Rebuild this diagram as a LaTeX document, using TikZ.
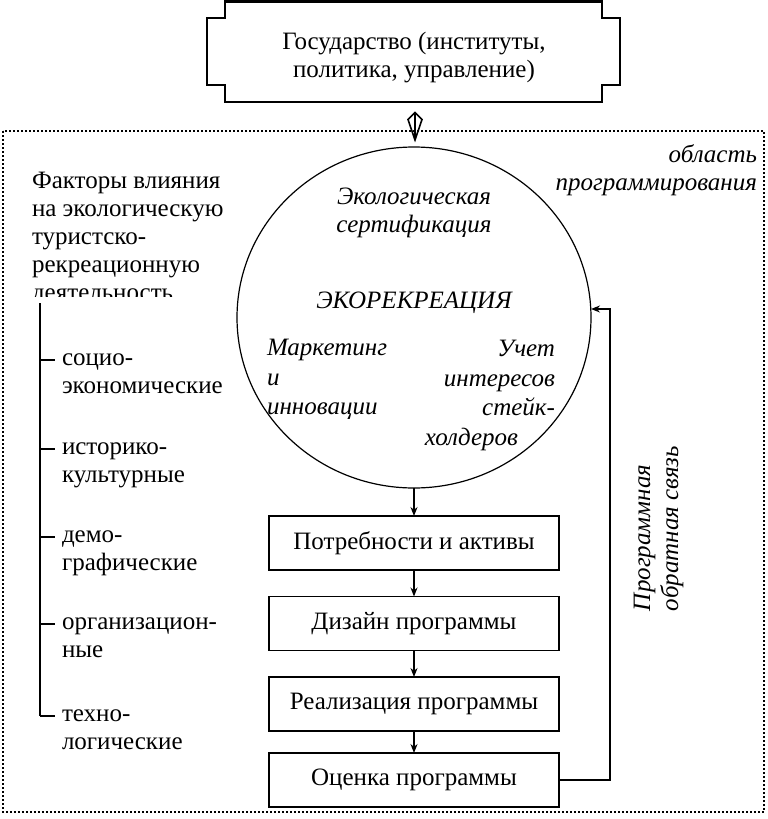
\documentclass[tikz,border=0pt]{standalone}
\usepackage{fontspec}
\setmainfont{Liberation Serif}
\usetikzlibrary{arrows.meta,shapes.geometric,calc}
\begin{document}
\begin{tikzpicture}[x=1pt,y=-1pt,
  every node/.style={inner sep=0pt, outer sep=0pt},
  txt/.style={font=\fontsize{25}{28}\selectfont},
  itx/.style={font=\fontsize{25}{28}\selectfont\itshape},
  itw/.style={font=\fontsize{25}{29.5}\selectfont\itshape},
  pbox/.style={txt, draw, line width=1.8pt, minimum width=290pt, minimum height=54pt},
  arr/.style={-{Stealth[length=9pt,width=7pt]}, line width=1.3pt},
  kite/.style={line width=1.6pt, line join=miter},
  tick/.style={line width=1.8pt}]
\useasboundingbox (0,0) rectangle (768,819);
% state box (scroll outline)
\node[minimum width=377pt, minimum height=101pt] (gov) at (413.5,52) {};
\draw[line width=2.4pt, line join=miter]
  (225,1.5) -- (602,1.5) -- (602,18) -- (620,18) -- (620,85) -- (602,85) -- (602,102)
  -- (225,102) -- (225,85) -- (207,85) -- (207,18) -- (225,18) -- cycle;
\node[txt, align=center, anchor=north] (govt) at (414,30) {\strut Государство (институты,\\\strut политика, управление)};
% programming area frame
\draw[dotted, line width=2pt] (3,131) rectangle (764,812);
\node[itx, align=right, anchor=north east] (area) at (757,143) {\strut область\\\strut программирования};
% circle
\node[ellipse, draw, line width=1.2pt, minimum width=354pt, minimum height=341pt] (eco) at (414,317.5) {};
\node[itx, align=center, anchor=north] (cert) at (414,185) {\strut Экологическая\\\strut сертификация};
\node[itx, anchor=base] (rec) at (414,308) {ЭКОРЕКРЕАЦИЯ};
\node[itw, align=left, anchor=north west] (mark) at (267,335) {\strut Маркетинг\\\strut и\\\strut инновации};
\node[itw, align=right, anchor=north east] (stake) at (555,336) {\strut Учет\\\strut интересов\\\strut стейк-\\\strut холдеров\hspace*{37pt}};
% two-way link state <-> programming area
\coordinate (dt) at ($(gov.south)+(1.5,10)$);
\coordinate (db) at ($(eco.north)+(1,-7)$);
\draw[kite] (dt) -- ($(dt)+(-7,7)$) -- (db) -- ($(dt)+(7,7)$) -- cycle;
\draw[kite] (dt) -- (db);
% program boxes
\node[pbox] (b1) at (414,543) {Потребности и активы};
\node[pbox] (b2) at (414,623.5) {Дизайн программы};
\node[pbox] (b3) at (414,704) {Реализация программы};
\node[pbox] (b4) at (414,780) {Оценка программы};
\draw[arr] (eco.south) -- (b1.north);
\draw[arr] (b1.south) -- (b2.north);
\draw[arr] (b2.south) -- (b3.north);
\draw[arr] (b3.south) -- (b4.north);
% feedback
\coordinate (fbc) at (610,309);
\draw[arr] (b4.east) -| (fbc) -- (fbc -| eco.east);
\node[itx, align=left, anchor=west, rotate=90] (fbl) at (658.5,611) {\strut Программная\\\strut обратная связь};
% factors
\begin{scope}
\clip (0,150) rectangle (260,296);
\node[txt, align=left, anchor=north west] (fact) at (32,169) {\strut Факторы влияния\\\strut на экологическую\\\strut туристско-\\\strut рекреационную\\\strut деятельность};
\end{scope}
\coordinate (vtop) at (40,303);
\coordinate (vbot) at (40,716);
\draw[tick] (vtop) -- (vbot);
\node[txt, align=left, anchor=north west] (f1) at (62,346) {\strut социо-\\\strut экономические};
\node[txt, align=left, anchor=north west] (f2) at (62,435) {\strut историко-\\\strut культурные};
\node[txt, align=left, anchor=north west] (f3) at (62,523) {\strut демо-\\\strut графические};
\node[txt, align=left, anchor=north west] (f4) at (62,610) {\strut организацион-\\\strut ные};
\node[txt, align=left, anchor=north west] (f5) at (62,702) {\strut техно-\\\strut логические};
\foreach \n in {f1,f2,f3,f4,f5}
  \draw[tick] ($(\n.north west)+(-22,14.2)$) -- ++(15,0);
\end{tikzpicture}
\end{document}
